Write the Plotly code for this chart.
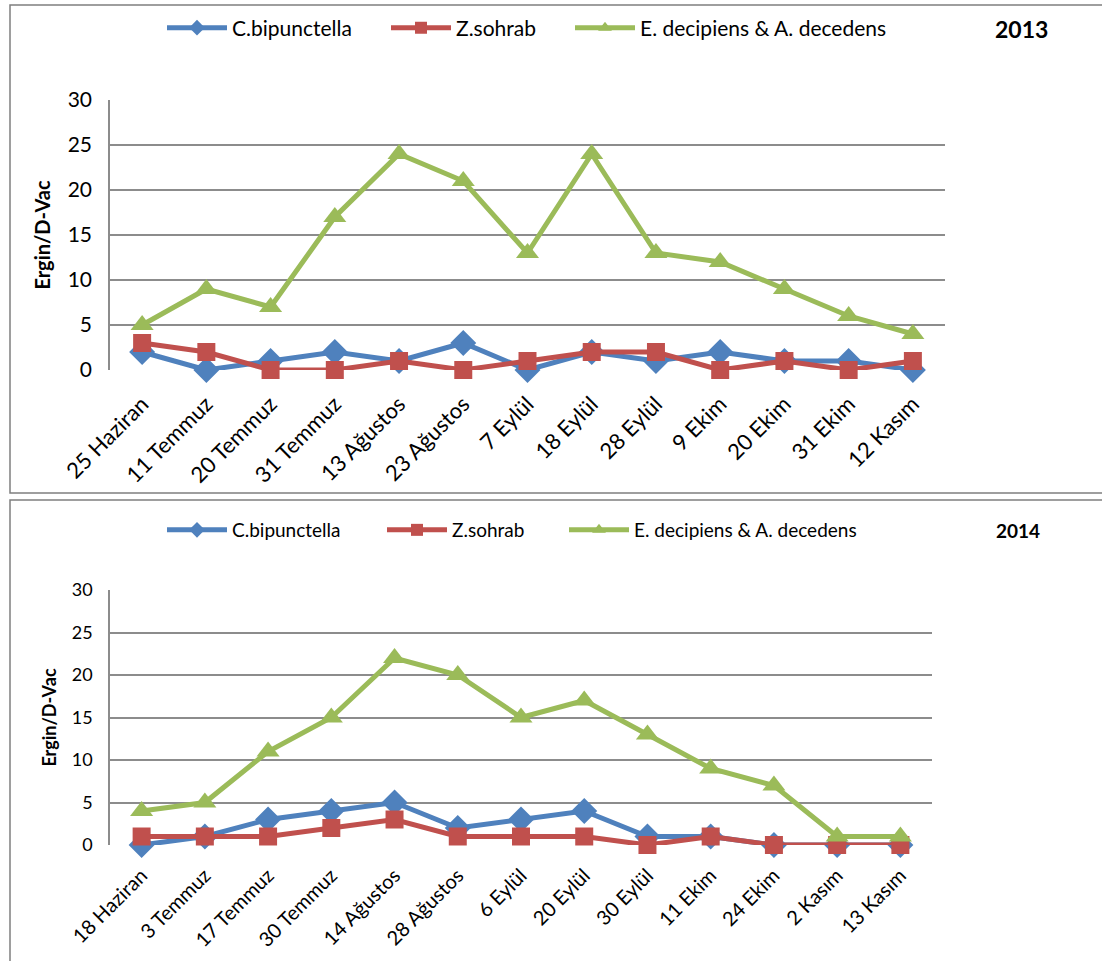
import plotly.graph_objects as go

# Sampling dates and counts (adults per D-Vac sample)
dates_2013 = ["25 Haziran", "11 Temmuz", "20 Temmuz", "31 Temmuz", "13 Ağustos",
              "23 Ağustos", "7 Eylül", "18 Eylül", "28 Eylül", "9 Ekim",
              "20 Ekim", "31 Ekim", "12 Kasım"]
cbip_2013 = [2, 0, 1, 2, 1, 3, 0, 2, 1, 2, 1, 1, 0]
zsoh_2013 = [3, 2, 0, 0, 1, 0, 1, 2, 2, 0, 1, 0, 1]
edec_2013 = [5, 9, 7, 17, 24, 21, 13, 24, 13, 12, 9, 6, 4]

dates_2014 = ["18 Haziran", "3 Temmuz", "17 Temmuz", "30 Temmuz", "14 Ağustos",
              "28 Ağustos", "6 Eylül", "20 Eylül", "30 Eylül", "11 Ekim",
              "24 Ekim", "2 Kasım", "13 Kasım"]
cbip_2014 = [0, 1, 3, 4, 5, 2, 3, 4, 1, 1, 0, 0, 0]
zsoh_2014 = [1, 1, 1, 2, 3, 1, 1, 1, 0, 1, 0, 0, 0]
edec_2014 = [4, 5, 11, 15, 22, 20, 15, 17, 13, 9, 7, 1, 1]

series_names = ["C.bipunctella", "Z.sohrab", "E. decipiens & A. decedens"]
colors = ["#4F81BD", "#C0504D", "#9BBB59"]
symbols = ["diamond", "square", "triangle-up"]
msizes = [20, 18, 20]

W, H = 1102, 961
FONT = "Lato, 'Open Sans', sans-serif"
GRID = "#8C8C8C"


def px_x(p):
    return p / W


def px_y(p):
    return 1 - p / H


fig = go.Figure()

# each legend entry gets its own legend box so entries can be spaced freely
panels = [
    (dates_2013, [cbip_2013, zsoh_2013, edec_2013], "x", "y",
     ["legend", "legend2", "legend3"]),
    (dates_2014, [cbip_2014, zsoh_2014, edec_2014], "x2", "y2",
     ["legend4", "legend5", "legend6"]),
]
for dates, vals, xa, ya, lgs in panels:
    for name, v, c, s, ms, lg in zip(series_names, vals, colors, symbols, msizes, lgs):
        fig.add_trace(go.Scatter(
            x=list(range(len(dates))), y=v, name=name, mode="lines+markers",
            line=dict(color=c, width=5),
            marker=dict(symbol=s, size=ms, color=c),
            xaxis=xa, yaxis=ya, legend=lg, cliponaxis=False,
        ))


def xaxis(dates, dom, size, standoff):
    return dict(
        domain=dom, range=[-0.5, len(dates) - 0.5],
        tickmode="array", tickvals=list(range(len(dates))), ticktext=dates,
        tickangle=-45, tickfont=dict(family=FONT, size=size, color="#000"),
        showgrid=False, zeroline=False, showline=False, ticks="",
        ticklabelstandoff=standoff,
    )


def yaxis(dom, size, title_size, standoff):
    return dict(
        domain=dom, range=[0, 30], tickvals=[0, 5, 10, 15, 20, 25, 30],
        tickfont=dict(family=FONT, size=size, color="#000"),
        showgrid=True, gridcolor=GRID, gridwidth=1.5,
        showline=True, linecolor=GRID, linewidth=1.5,
        zeroline=False, ticks="", ticklabelstandoff=12,
        title=dict(text="<b>Ergin/D-Vac</b>", standoff=standoff,
                   font=dict(family=FONT, size=title_size, color="#000")),
    )


def legend_box(x_px, y_px, size):
    return dict(orientation="h", x=px_x(x_px), xanchor="left",
                y=px_y(y_px), yanchor="middle", itemwidth=60,
                itemsizing="constant",
                font=dict(family=FONT, size=size, color="#000"),
                bgcolor="rgba(0,0,0,0)")


fig.update_layout(
    width=W, height=H,
    margin=dict(l=0, r=0, t=0, b=0, autoexpand=False),
    paper_bgcolor="white", plot_bgcolor="white",
    xaxis=xaxis(dates_2013, [px_x(110), px_x(945)], 22, 16),
    yaxis=yaxis([px_y(370), px_y(100)], 21, 20, 12),
    xaxis2=dict(xaxis(dates_2014, [px_x(110), px_x(932)], 20, 14), anchor="y2"),
    yaxis2=dict(yaxis([px_y(845), px_y(590)], 18, 18, 10), anchor="x2"),
    legend=legend_box(162, 28, 21),
    legend2=legend_box(386, 28, 21),
    legend3=legend_box(570, 28, 21),
    legend4=legend_box(162, 530, 19),
    legend5=legend_box(382, 530, 19),
    legend6=legend_box(564, 530, 19),
    showlegend=True,
)

# Panel frames
fig.add_shape(type="rect", xref="paper", yref="paper",
              x0=px_x(10), x1=px_x(1110), y0=px_y(493), y1=px_y(5),
              line=dict(color="#7F7F7F", width=1.5))
fig.add_shape(type="rect", xref="paper", yref="paper",
              x0=px_x(10), x1=px_x(1110), y0=px_y(975), y1=px_y(500),
              line=dict(color="#7F7F7F", width=1.5))

# Year labels
fig.add_annotation(text="<b>2013</b>", xref="paper", yref="paper",
                   x=px_x(1050), y=px_y(29), yanchor="middle", showarrow=False,
                   font=dict(family=FONT, size=23, color="#000"))
fig.add_annotation(text="<b>2014</b>", xref="paper", yref="paper",
                   x=px_x(1042), y=px_y(530), yanchor="middle", showarrow=False,
                   font=dict(family=FONT, size=19, color="#000"))

fig.write_html("out.html")
